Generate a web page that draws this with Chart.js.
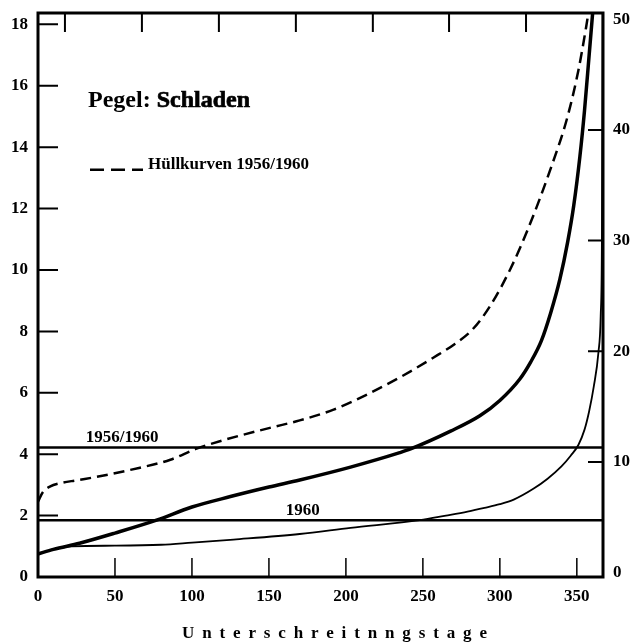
<!DOCTYPE html>
<html>
<head>
<meta charset="utf-8">
<script src="https://cdn.jsdelivr.net/npm/chart.js@4.4.1/dist/chart.umd.min.js"></script>
<style>
  html, body { margin: 0; padding: 0; background: #fff; }
</style>
</head>
<body>
<canvas id="chart" width="633" height="644"></canvas>
<script>
// Hüllkurve (upper envelope), dashed
const envDays   = [0, 3, 8, 14, 25, 38, 60, 86, 103, 120, 150, 170, 192, 214, 235, 257, 271, 282, 294, 307, 318, 333, 344, 351, 356, 358.5];
const envLevels = [2.45, 2.75, 2.95, 3.05, 3.15, 3.26, 3.49, 3.82, 4.18, 4.45, 4.85, 5.1, 5.45, 5.95, 6.5, 7.15, 7.6, 8.05, 8.85, 10.05, 11.3, 13.3, 15.0, 16.5, 17.9, 18.7];

// 1956/1960 curve, thick
const midDays   = [0, 10, 27, 50, 77, 100, 125, 150, 170, 203, 235, 242, 268, 287, 300, 313, 320, 327, 333, 339, 344, 348, 352, 355, 358, 361, 362];
const midLevels = [0.75, 0.9, 1.1, 1.43, 1.85, 2.28, 2.62, 2.93, 3.16, 3.58, 4.05, 4.17, 4.75, 5.25, 5.75, 6.45, 7.0, 7.7, 8.6, 9.7, 10.9, 12.1, 13.7, 15.2, 17.0, 18.8, 19.4];

// 1960 curve, thin
const lowDays   = [0, 10, 22, 50, 80, 100, 127, 170, 203, 248, 265, 279, 290, 300, 309, 322, 331, 340, 346, 351, 355, 358, 361, 364, 365.5, 366.3, 366.8];
const lowLevels = [0.75, 0.9, 1.0, 1.02, 1.05, 1.12, 1.22, 1.4, 1.6, 1.85, 2.0, 2.13, 2.25, 2.37, 2.52, 2.88, 3.2, 3.6, 3.95, 4.3, 4.8, 5.4, 6.2, 7.3, 8.5, 11.0, 18.5];

// horizontal reference levels with their labels
const refLevels = [4.22, 1.85];
const refLabels = ['1956/1960', '1960'];
const refLabelDays = [31, 161];

// axis ticks
const xTicks = [0, 50, 100, 150, 200, 250, 300, 350];
const topTicks = [17.5, 67.5, 117.5, 167.5, 217.5, 267, 317];
const yTicks = [0, 2, 4, 6, 8, 10, 12, 14, 16, 18];
const y2Ticks = [0, 10, 20, 30, 40, 50];

const serif = '"Liberation Serif", "Times New Roman", serif';

const toPoints = (xs, ys) => xs.map((x, i) => ({ x: x, y: ys[i] }));

const decorations = {
  id: 'decorations',
  afterDatasetsDraw(chart) {
    const ctx = chart.ctx;
    const a = chart.chartArea;
    const x = chart.scales.x, y = chart.scales.y, y2 = chart.scales.y2;
    ctx.save();
    ctx.strokeStyle = '#000';
    ctx.fillStyle = '#000';

    // frame
    ctx.lineWidth = 3;
    ctx.strokeRect(a.left, a.top, a.right - a.left, a.bottom - a.top);

    // inner ticks
    ctx.lineWidth = 2;
    ctx.beginPath();
    yTicks.slice(1).forEach(v => {
      const p = y.getPixelForValue(v);
      ctx.moveTo(a.left, p); ctx.lineTo(a.left + 20, p);
    });
    y2Ticks.slice(1, 5).forEach(v => {
      const p = y2.getPixelForValue(v);
      ctx.moveTo(a.right, p); ctx.lineTo(a.right - 15, p);
    });
    topTicks.forEach(v => {
      const p = x.getPixelForValue(v);
      ctx.moveTo(p, a.top); ctx.lineTo(p, a.top + 19);
    });
    ctx.stroke();
    ctx.lineWidth = 1.5;
    ctx.beginPath();
    xTicks.slice(1).forEach(v => {
      const p = x.getPixelForValue(v);
      ctx.moveTo(p, a.bottom); ctx.lineTo(p, a.bottom - 19);
    });
    ctx.stroke();

    // labels over the reference lines
    ctx.font = 'bold 17px ' + serif;
    ctx.textAlign = 'left';
    ctx.textBaseline = 'alphabetic';
    refLabels.forEach((t, i) => {
      ctx.fillText(t, x.getPixelForValue(refLabelDays[i]), y.getPixelForValue(refLevels[i]) - 5);
    });

    // gauge name
    const tx = x.getPixelForValue(32.5), ty = y.getPixelForValue(15.3);
    ctx.font = 'bold 24px ' + serif;
    ctx.fillText('Pegel:', tx, ty);
    const w = ctx.measureText('Pegel: ').width;
    ctx.lineWidth = 0.7;
    ctx.fillText('Schladen', tx + w, ty);
    ctx.strokeText('Schladen', tx + w, ty);

    // legend
    const ly = y.getPixelForValue(13.3);
    ctx.lineWidth = 2.5;
    ctx.setLineDash([14, 7]);
    ctx.beginPath();
    ctx.moveTo(90, ly + 1); ctx.lineTo(143, ly + 1);
    ctx.stroke();
    ctx.setLineDash([]);
    ctx.font = 'bold 17px ' + serif;
    ctx.fillText('Hüllkurven 1956/1960', 148, ly);

    // x axis title, letter-spaced
    const title = 'Unterschreitnngstage';
    ctx.font = 'bold 17px ' + serif;
    const plain = ctx.measureText(title).width;
    ctx.letterSpacing = ((305 - plain) / (title.length - 1)) + 'px';
    ctx.textBaseline = 'middle';
    ctx.fillText(title, 182, 634);
    ctx.restore();
  }
};

const tickFont = { family: serif, size: 17, weight: 'bold' };

// fixed axis boxes, no extra room for overhanging labels
const noPad = s => { s.paddingTop = 0; s.paddingBottom = 0; s.paddingLeft = 0; s.paddingRight = 0; };

new Chart(document.getElementById('chart'), {
  type: 'line',
  data: {
    datasets: [
      {
        data: toPoints(envDays, envLevels),
        borderColor: '#000', borderWidth: 2.5, borderDash: [11, 6],
        pointRadius: 0, cubicInterpolationMode: 'monotone'
      },
      {
        data: toPoints(midDays, midLevels),
        borderColor: '#000', borderWidth: 3.5,
        pointRadius: 0, cubicInterpolationMode: 'monotone'
      },
      {
        data: toPoints(lowDays, lowLevels),
        borderColor: '#000', borderWidth: 1.8,
        pointRadius: 0, cubicInterpolationMode: 'monotone'
      },
      {
        data: [{ x: 0, y: refLevels[0] }, { x: 367, y: refLevels[0] }],
        borderColor: '#000', borderWidth: 2.5, pointRadius: 0
      },
      {
        data: [{ x: 0, y: refLevels[1] }, { x: 367, y: refLevels[1] }],
        borderColor: '#000', borderWidth: 2.5, pointRadius: 0
      }
    ]
  },
  options: {
    responsive: false,
    animation: false,
    layout: { padding: { top: 13, left: 0, right: 0, bottom: 0 } },
    plugins: { legend: { display: false }, tooltip: { enabled: false } },
    scales: {
      x: {
        type: 'linear', position: 'bottom', min: 0, max: 367,
        afterBuildTicks: s => { s.ticks = xTicks.map(v => ({ value: v })); },
        afterFit: s => { s.height = 67; noPad(s); },
        grid: { display: false, drawTicks: false },
        border: { display: false },
        ticks: { color: '#000', font: tickFont, padding: 9, maxRotation: 0 }
      },
      y: {
        type: 'linear', position: 'left', min: 0, max: 18.37,
        afterBuildTicks: s => { s.ticks = yTicks.map(v => ({ value: v })); },
        afterFit: s => { s.width = 38; noPad(s); },
        grid: { display: false, drawTicks: false },
        border: { display: false },
        ticks: { color: '#000', font: tickFont, padding: 10 }
      },
      y2: {
        type: 'linear', position: 'right', min: -0.39, max: 50.56,
        afterBuildTicks: s => { s.ticks = y2Ticks.map(v => ({ value: v })); },
        afterFit: s => { s.width = 30; noPad(s); },
        grid: { display: false, drawTicks: false },
        border: { display: false },
        ticks: { color: '#000', font: tickFont, padding: 10 }
      }
    }
  },
  plugins: [decorations]
});
</script>
</body>
</html>
